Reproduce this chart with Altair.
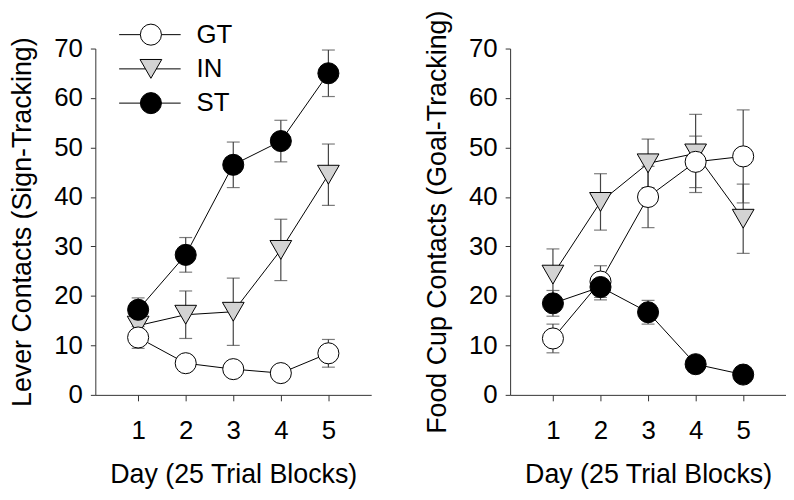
import altair as alt
import pandas as pd

days = [1, 2, 3, 4, 5]
groups = ["GT", "IN", "ST"]

# Lever contacts (sign-tracking): means and SEM
lever_gt = [11.6, 6.4, 5.2, 4.4, 8.4]
lever_gt_err = [2.2, 1.0, 0.8, 0.8, 2.8]
lever_in = [14.0, 16.2, 16.8, 29.3, 44.5]
lever_in_err = [1.5, 4.8, 6.8, 6.2, 6.2]
lever_st = [17.2, 28.3, 46.5, 51.3, 65.0]
lever_st_err = [2.4, 3.5, 4.6, 4.2, 4.7]

# Food cup contacts (goal-tracking): means and SEM
food_gt = [11.4, 22.9, 40.0, 47.1, 48.2]
food_gt_err = [2.9, 3.2, 6.2, 5.2, 9.4]
food_in = [24.3, 39.0, 46.8, 48.8, 35.6]
food_in_err = [5.2, 5.7, 4.9, 7.9, 7.0]
food_st = [18.5, 21.8, 16.7, 6.2, 4.1]
food_st_err = [2.6, 2.6, 2.4, 0.8, 0.6]

y_ticks = [0, 10, 20, 30, 40, 50, 60, 70]

FONT = "Liberation Sans"
STYLE = {
    "GT": {"shape": "circle", "fill": "white", "size": 450},
    "IN": {"shape": "triangle-down", "fill": "#d3d3d3", "size": 480},
    "ST": {"shape": "circle", "fill": "black", "size": 450},
}
DRAW_ORDER = ["IN", "GT", "ST"]
ERR_COLOR = "#444444"


def make_df(means, errs):
    rows = []
    for g in DRAW_ORDER:
        for d, m, e in zip(days, means[g], errs[g]):
            rows.append({
                "day": d, "group": g, "mean": m, "lo": m - e, "hi": m + e,
                "shape": STYLE[g]["shape"], "fill": STYLE[g]["fill"],
                "size": STYLE[g]["size"],
            })
    return pd.DataFrame(rows)


def panel(means, errs, ytitle, with_legend):
    df = make_df(means, errs)
    xscale = alt.Scale(domain=[0.1, 5.9], nice=False, zero=False)
    yscale = alt.Scale(domain=[0, 70], nice=False, zero=False)
    xaxis = alt.Axis(values=days, title="Day (25 Trial Blocks)", format="d")
    yaxis = alt.Axis(values=y_ticks, title=ytitle, format="d")

    def X():
        return alt.X("day:Q", scale=xscale, axis=xaxis)

    def Y(field):
        return alt.Y(f"{field}:Q", scale=yscale, axis=yaxis)

    base = alt.Chart(df)
    err = base.mark_rule(color=ERR_COLOR, strokeWidth=1.2).encode(
        x=X(), y=Y("lo"), y2="hi:Q")
    cap_hi = base.mark_tick(orient="horizontal", size=13, thickness=1.2,
                            color=ERR_COLOR).encode(x=X(), y=Y("hi"))
    cap_lo = base.mark_tick(orient="horizontal", size=13, thickness=1.2,
                            color=ERR_COLOR).encode(x=X(), y=Y("lo"))
    lines = base.mark_line(color="black", strokeWidth=1).encode(
        x=X(), y=Y("mean"), detail="group:N")
    pts = base.mark_point(filled=True, stroke="black", strokeWidth=1,
                          opacity=1, fillOpacity=1).encode(
        x=X(), y=Y("mean"),
        shape=alt.Shape("shape:N", scale=None),
        fill=alt.Fill("fill:N", scale=None),
        size=alt.Size("size:Q", scale=None),
        detail="group:N")
    layers = [err, cap_hi, cap_lo, lines, pts]

    if with_legend:
        top, step = -14, 34.5
        leg = pd.DataFrame({
            "group": groups,
            "ly": [top + i * step for i in range(len(groups))],
            "shape": [STYLE[g]["shape"] for g in groups],
            "fill": [STYLE[g]["fill"] for g in groups],
            "size": [STYLE[g]["size"] for g in groups],
        })
        lb = alt.Chart(leg)
        ly = alt.Y("ly:Q", scale=None)
        layers += [
            lb.mark_rule(color="black", strokeWidth=1).encode(
                x=alt.value(24), x2=alt.value(86), y=ly),
            lb.mark_point(filled=True, stroke="black", strokeWidth=1,
                          opacity=1, fillOpacity=1).encode(
                x=alt.value(56), y=ly,
                shape=alt.Shape("shape:N", scale=None),
                fill=alt.Fill("fill:N", scale=None),
                size=alt.Size("size:Q", scale=None)),
            lb.mark_text(align="left", baseline="middle", fontSize=26,
                         font=FONT, color="black").encode(
                x=alt.value(102), y=ly, text="group:N"),
        ]
    return alt.layer(*layers).properties(width=278, height=349)


left = panel({"GT": lever_gt, "IN": lever_in, "ST": lever_st},
             {"GT": lever_gt_err, "IN": lever_in_err, "ST": lever_st_err},
             "Lever Contacts (Sign-Tracking)", True)
right = panel({"GT": food_gt, "IN": food_in, "ST": food_st},
              {"GT": food_gt_err, "IN": food_in_err, "ST": food_st_err},
              "Food Cup Contacts (Goal-Tracking)", False)

chart = alt.hconcat(left, right, spacing=53).properties(
    padding={"left": 1, "top": 0, "right": 0, "bottom": 0}
).configure_view(stroke=None).configure_axis(
    grid=False,
    domainColor="#333333", tickColor="#333333",
    labelFont=FONT, titleFont=FONT,
    labelColor="black", titleColor="black",
    labelFontSize=26, titleFontSize=27,
    titleFontWeight="normal",
).configure_axisX(
    tickSize=6, labelPadding=17, titlePadding=18,
).configure_axisY(
    tickSize=5, labelPadding=8, titlePadding=17,
)

chart.save("out.html", embed_options={"renderer": "svg", "actions": False})
